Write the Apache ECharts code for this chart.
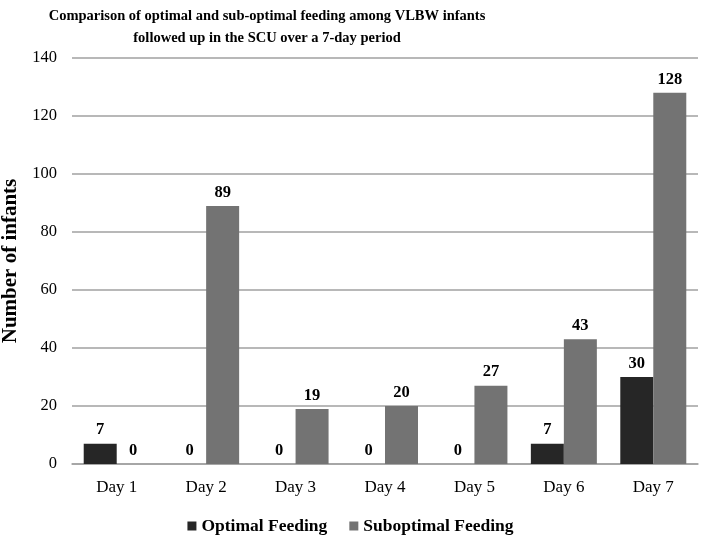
<!DOCTYPE html>
<html><head><meta charset="utf-8">
<script src="https://cdn.jsdelivr.net/npm/echarts@6/dist/echarts.min.js"></script>
<style>html,body{margin:0;padding:0;background:#fff}#c{width:701px;height:537px}</style>
</head><body><div id="c"></div>
<script>
const categories = ['Day 1','Day 2','Day 3','Day 4','Day 5','Day 6','Day 7'];
const optimal = [7, 0, 0, 0, 0, 7, 30];
const suboptimal = [0, 89, 19, 20, 27, 43, 128];
const seriesNames = ['Optimal Feeding','Suboptimal Feeding'];
const titleLines = ['Comparison of optimal and sub-optimal feeding among VLBW infants','followed up in the SCU over a 7-day period'];
const yAxisName = 'Number of infants';

const F = '"Liberation Serif","Times New Roman",serif';
const chart = echarts.init(document.getElementById('c'), null, {renderer:'canvas'});
const lbl = {show:true, position:'top', fontFamily:F, fontWeight:'bold', fontSize:16.5, color:'#000', distance:5};
chart.setOption({
  animation:false,
  title:{text:titleLines.join('\n'), left:262, top:0, textAlign:'center',
    textStyle:{fontFamily:F, fontWeight:'bold', fontSize:14.5, color:'#000', lineHeight:22}},
  legend:{bottom:-3, left:'center', itemWidth:9, itemHeight:9, itemGap:22, icon:'rect',
    textStyle:{fontFamily:F, fontWeight:'bold', fontSize:17.5, color:'#000'}, data:seriesNames},
  grid:{left:72, right:3, top:58, bottom:73, containLabel:false, outerBoundsMode:'none'},
  xAxis:{type:'category', data:categories,
    axisLine:{lineStyle:{color:'#a0a0a0', width:1.5}}, axisTick:{show:false},
    axisLabel:{fontFamily:F, fontSize:17, color:'#000', margin:15}},
  yAxis:{type:'value', min:0, max:140, interval:20, name:yAxisName, nameLocation:'middle', nameGap:50,
    nameTextStyle:{fontFamily:F, fontWeight:'bold', fontSize:21, color:'#000'},
    axisLabel:{fontFamily:F, fontSize:16.5, color:'#000', margin:15},
    splitLine:{lineStyle:{color:'#a0a0a0', width:1.5}}, axisLine:{show:false}},
  series:[
    {name:seriesNames[0], type:'bar', data:optimal, barWidth:33, barGap:'0%', itemStyle:{color:'#262626'}, label:lbl},
    {name:seriesNames[1], type:'bar', data:suboptimal, barWidth:33, itemStyle:{color:'#737373'}, label:lbl}
  ]
});
</script></body></html>
